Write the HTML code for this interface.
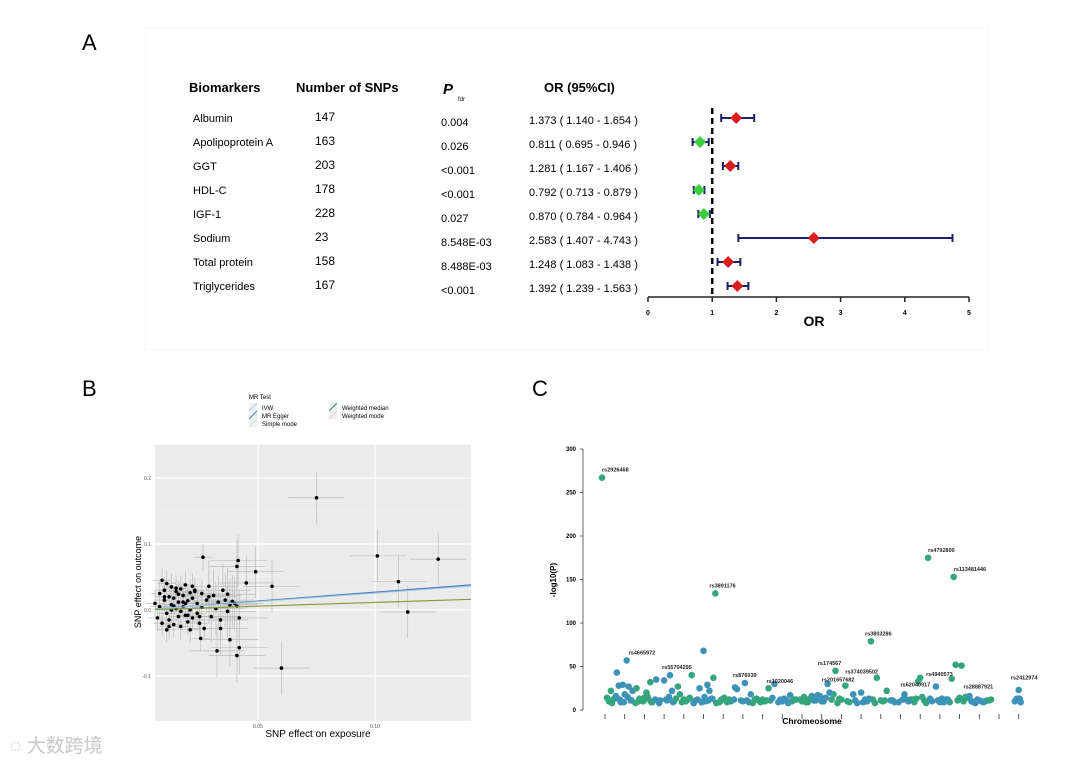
<!DOCTYPE html>
<html><head><meta charset="utf-8">
<style>
html,body{margin:0;padding:0;background:#fff;}
body{width:1075px;height:766px;overflow:hidden;font-family:"Liberation Sans","Noto Sans CJK SC",sans-serif;}
svg text{font-family:"Liberation Sans","Noto Sans CJK SC",sans-serif;}
</style></head>
<body>
<svg id="fig" width="1075" height="766" viewBox="0 0 1075 766">
  <rect x="145" y="28" width="843" height="322" fill="none" stroke="#f7f7f7"/>
  <text x="82" y="50" font-size="22">A</text>
  <text x="82" y="396" font-size="22">B</text>
  <text x="532" y="396" font-size="22">C</text>
  <g id="pa">
    <text x="189" y="92" font-size="13" font-weight="bold">Biomarkers</text>
    <text x="296" y="92" font-size="13" font-weight="bold">Number of SNPs</text>
    <text x="443" y="94" font-size="15" font-weight="bold" font-style="italic">P</text>
    <text x="458" y="101" font-size="6">fdr</text>
    <text x="544" y="92" font-size="13" font-weight="bold">OR (95%CI)</text>
  </g>
  <g id="pb"></g>
  <g id="pc"></g>
  <text x="10" y="752" font-size="19" fill="#c8c8c8">◌ 大数跨境</text>
</svg>
<script>
const NS="http://www.w3.org/2000/svg";
function mk(p,tag,attrs,txt){const e=document.createElementNS(NS,tag);for(const k in attrs)e.setAttribute(k,attrs[k]);if(txt!==undefined)e.textContent=txt;p.appendChild(e);return e;}

/* ---------- Panel A data ---------- */
const biomarkers=["Albumin","Apolipoprotein A","GGT","HDL-C","IGF-1","Sodium","Total protein","Triglycerides"];
const nSNPs=[147,163,203,178,228,23,158,167];
const pfdr=["0.004","0.026","<0.001","<0.001","0.027","8.548E-03","8.488E-03","<0.001"];
const orVals=[1.373,0.811,1.281,0.792,0.870,2.583,1.248,1.392];
const orLo=[1.140,0.695,1.167,0.713,0.784,1.407,1.083,1.239];
const orHi=[1.654,0.946,1.406,0.879,0.964,4.743,1.438,1.563];
const orTicks=[0,1,2,3,4,5];

const pa=document.getElementById('pa');
const fx=v=>648+v*64.2;
const rowY=i=>118+i*24;
const fmt=v=>v.toFixed(3);
biomarkers.forEach((b,i)=>{
  const y=rowY(i);
  let t=mk(pa,'text',{x:193,y:y+4,'font-size':11});t.textContent=b;
  
  
  t=mk(pa,'text',{x:315,y:y+3,'font-size':12});t.textContent=nSNPs[i];
  
  
  t=mk(pa,'text',{x:441,y:y+8,'font-size':11});t.textContent=pfdr[i];
  
  
  t=mk(pa,'text',{x:529,y:y+6,'font-size':11});t.textContent=fmt(orVals[i])+" ( "+fmt(orLo[i])+" - "+fmt(orHi[i])+" )";
  
  
  const g=mk(pa,'g',{});
  
  
  mk(g,'line',{x1:fx(orLo[i]),x2:fx(orHi[i]),y1:y,y2:y,stroke:'#1a1f6b','stroke-width':2});
  mk(g,'line',{x1:fx(orLo[i]),x2:fx(orLo[i]),y1:y-4,y2:y+4,stroke:'#1a1f6b','stroke-width':2});
  mk(g,'line',{x1:fx(orHi[i]),x2:fx(orHi[i]),y1:y-4,y2:y+4,stroke:'#1a1f6b','stroke-width':2});
  const cx=fx(orVals[i]);
  const col=orVals[i]>1?'#d81e1e':'#3ccf3c';
  const d=mk(g,'polygon',{points:`${cx},${y-6} ${cx+6},${y} ${cx},${y+6} ${cx-6},${y}`,fill:col});
  
  
});
let l=mk(pa,'line',{x1:fx(1),x2:fx(1),y1:108,y2:298,stroke:'#000','stroke-width':2.5,'stroke-dasharray':'6,4'});


l=mk(pa,'line',{x1:fx(0),x2:fx(5),y1:297,y2:297,stroke:'#222','stroke-width':1.5});


orTicks.forEach(v=>{
  mk(pa,'line',{x1:fx(v),x2:fx(v),y1:297,y2:302,stroke:'#222','stroke-width':1.5});
  const t=mk(pa,'text',{x:fx(v),y:315,'font-size':7,'font-weight':'bold','text-anchor':'middle'});t.textContent=v;
  
  
});
let tt=mk(pa,'text',{x:814,y:326,'font-size':14,'font-weight':'bold','text-anchor':'middle'},'OR');



/* ---------- Panel B data ---------- */
const bX=[0.006,0.007,0.008,0.008,0.009,0.010,0.010,0.011,0.011,0.012,0.012,0.013,0.013,0.014,0.014,0.015,0.015,0.016,0.016,0.017,0.017,0.018,0.018,0.019,0.019,0.020,0.020,0.021,0.021,0.022,0.022,0.023,0.024,0.024,0.025,0.026,0.026,0.027,0.028,0.029,0.030,0.031,0.032,0.033,0.034,0.035,0.036,0.037,0.038,0.039,0.040,0.041,0.042,0.009,0.011,0.013,0.015,0.017,0.019,0.021,0.023,0.025,0.010,0.012,0.014,0.016,0.018,0.020,0.022,
 0.0265,0.0415,0.041,0.045,0.049,0.056,0.075,0.101,0.110,0.114,0.127,0.060,0.042,0.041,0.038,0.0325,0.0255,0.029,0.034,0.037];
const bY=[0.010,-0.012,0.025,0.005,-0.020,0.030,0.015,-0.005,0.040,0.020,-0.015,0.008,0.035,-0.022,0.018,0.002,0.028,-0.010,0.012,0.032,-0.025,0.005,0.022,-0.008,0.038,0.014,-0.018,0.026,0.000,-0.012,0.018,0.030,-0.005,0.010,-0.020,0.025,0.004,-0.028,0.015,0.020,-0.010,0.022,0.002,0.012,-0.015,0.030,0.015,-0.002,0.008,0.013,0.010,0.006,-0.012,0.045,-0.030,0.000,0.033,-0.002,0.010,-0.030,0.028,-0.010,0.020,-0.025,0.006,0.024,0.012,-0.008,0.036,
 0.080,0.075,0.066,0.041,0.058,0.036,0.170,0.082,0.043,-0.003,0.077,-0.088,-0.057,-0.069,-0.045,-0.062,-0.043,0.036,-0.028,0.024];
const ivwSlope=0.27;
const medianSlope=0.115;
const bXTicks=[0.05,0.10];
const bXTickLabels=["0.05","0.10"];
const bYTicks=[-0.1,0,0.1,0.2];
const bYTickLabels=["-0.1","0.0","0.1","0.2"];

const pb=document.getElementById('pb');
const bx=v=>141+v*2340;
const by=v=>610-v*660;
let bg=mk(pb,'rect',{x:155,y:445,width:316,height:276,fill:'#ebebeb'});


[-0.15,-0.05,0.05,0.15].forEach(v=>mk(pb,'line',{x1:155,x2:471,y1:by(v),y2:by(v),stroke:'#f3f3f3','stroke-width':0.6}));
bYTicks.forEach((v,i)=>{
  mk(pb,'line',{x1:155,x2:471,y1:by(v),y2:by(v),stroke:'#fff','stroke-width':1.2});
  const t=mk(pb,'text',{x:151,y:by(v)+2,'font-size':5,'text-anchor':'end',fill:'#555'},bYTickLabels[i]);
  
  
});
bXTicks.forEach((v,i)=>{
  mk(pb,'line',{x1:bx(v),x2:bx(v),y1:445,y2:721,stroke:'#fff','stroke-width':1.2});
  const t=mk(pb,'text',{x:bx(v),y:728,'font-size':5,'text-anchor':'middle',fill:'#555'},bXTickLabels[i]);
  
  
});
bX.forEach((x,i)=>{
  const y=bY[i];
  const big=x>0.028;
  const sx=big?0.012:0.004, sy=big?0.04:0.02;
  mk(pb,'line',{x1:bx(x-sx),x2:bx(x+sx),y1:by(y),y2:by(y),stroke:'#b5b5b5','stroke-width':0.6});
  mk(pb,'line',{x1:bx(x),x2:bx(x),y1:by(y-sy),y2:by(y+sy),stroke:'#b5b5b5','stroke-width':0.6});
});
bX.forEach((x,i)=>{
  const c=mk(pb,'circle',{cx:bx(x),cy:by(bY[i]),r:1.8,fill:'#000'});
  
  
});
let ln=mk(pb,'line',{x1:155,y1:by(ivwSlope*((155-141)/2340)),x2:471,y2:by(ivwSlope*((471-141)/2340)),stroke:'#4a7fc0','stroke-width':1.2});


ln=mk(pb,'line',{x1:155,y1:by(ivwSlope*0.95*((155-141)/2340)),x2:471,y2:by(ivwSlope*0.95*((471-141)/2340)),stroke:'#9ccbe0','stroke-width':1});


ln=mk(pb,'line',{x1:155,y1:by(medianSlope*((155-141)/2340)),x2:471,y2:by(medianSlope*((471-141)/2340)),stroke:'#8a9a3a','stroke-width':1.2});


let t=mk(pb,'text',{x:0,y:0,'font-size':9,'text-anchor':'middle',transform:'translate(141,582) rotate(-90)'},'SNP effect on outcome');


t=mk(pb,'text',{x:318,y:737,'font-size':10,'text-anchor':'middle'},'SNP effect on exposure');


/* legend */
const lg=mk(pb,'g',{});


mk(lg,'text',{x:249,y:399,'font-size':6},'MR Test');
const legNames=["IVW","MR Egger","Simple mode","Weighted median","Weighted mode"];
const legCols=["#b8d3ec","#4a7fc0","#cfe6d0","#2e8b57","#f3c6c6"];
legNames.forEach((n,i)=>{
  const col=i<3?0:1, row=i<3?i:i-3;
  const x=col?329:249, y=408+row*8;
  mk(lg,'rect',{x:x,y:y-5,width:8,height:8,fill:'#eef2f6'});
  mk(lg,'line',{x1:x,y1:y+3,x2:x+8,y2:y-5,stroke:legCols[i],'stroke-width':1});
  const e=mk(lg,'text',{x:x+13,y:y+2,'font-size':6},n);
  
  
});

/* ---------- Panel C data ---------- */
const cPos=[-0.15,0.6,1.1,1.2,0.9,0.3,0.5,0.7,1.0,1.4,1.6,2.0,2.3,2.6,2.1,1.8,3.0,3.3,3.7,3.4,3.8,4.0,4.4,4.8,5.2,5.3,5.5,5.0,5.6,5.9,6.3,6.7,6.6,7.1,7.4,7.2,7.8,8.3,8.6,8.0,8.9,9.4,9.7,9.2,10.0,10.5,10.8,11.3,11.7,11.6,11.4,12.2,12.6,12.8,13.2,13.0,13.5,13.8,14.0,14.3,14.6,15.2,15.5,15.7,15.9,15.6,16.0,16.4,16.8,17.1,17.5,17.7,17.8,17.6,18.1,18.3,18.4,18.5,19.1,19.4,20.9,21.0,
 0.2,0.4,0.8,1.3,1.7,2.2,2.4,2.8,3.1,3.5,3.9,4.2,4.6,5.1,5.4,5.8,6.1,6.4,6.9,7.3,7.6,8.1,8.4,8.8,9.1,9.5,9.9,10.3,10.7,11.1,11.5,11.9,12.3,12.7,13.1,13.6,14.1,14.5,14.9,15.3,15.8,16.2,16.6,17.0,17.4,17.9,18.2,18.7,19.0,19.3,19.6,20.8,21.1,
 0.1,0.35,0.55,0.75,0.95,1.15,1.35,1.55,1.75,1.95,2.15,2.35,2.55,2.75,3.15,3.25,3.45,3.6,4.1,4.3,4.5,4.7,4.9,5.05,5.25,5.45,5.65,5.85,6.05,6.2,6.55,7.0,7.5,7.7,7.9,8.2,8.5,9.0,9.3,9.6,10.1,10.2,10.4,10.6,10.9,11.0,11.2,11.8,12.0,12.4,13.3,13.4,13.7,14.2,14.7,15.1,15.4,16.1,16.3,16.5,16.9,17.2,17.3,18.0,18.6,18.8,18.9,19.2,19.5,21.05];
const cVal=[267,43,57,27,29,22,13,28,18,22,25,14,32,35,20,12,34,40,27,22,18,12,40,25,29,22,37,68,134,12,12,24,26,31,18,11,11,25,30,12,12,17,12,11,10,16,17,30,45,18,20,28,18,8,12,20,79,37,11,22,11,18,12,9,33,12,37,175,27,13,9,153,52,36,51,15,14,16,10,11,13,23,
 10,12,9,11,10,13,9,11,12,10,9,12,11,10,13,9,12,10,11,9,12,10,11,9,13,10,12,9,11,10,12,13,10,11,9,12,10,11,9,12,13,11,10,9,12,11,10,9,11,10,12,10,9,
 14,8,16,12,9,15,11,8,13,10,16,9,12,8,11,15,9,13,10,14,8,12,9,15,11,13,8,10,14,9,12,10,8,13,9,11,14,10,8,12,15,9,13,11,16,10,14,8,12,9,10,13,8,11,9,12,10,15,8,13,11,9,12,14,10,8,12,9,11,13];
const cLabels=["rs2926468","rs4665972","rs55704295","rs3891176","rs876039","rs1020046","rs174567","rs201657682","rs374039502","rs3803286","rs62040917","rs4940573","rs4792800","rs113481446","rs28887921","rs2412974"];
const cLabelPos=[-0.15,1.2,2.9,5.3,6.5,8.2,10.8,11.0,12.2,13.2,15.0,16.3,16.4,17.7,18.2,20.6];
const cLabelVal=[267,57,40,134,31,24,45,26,35,79,20,32,175,153,18,28];
const cYTicks=[0,50,100,150,200,250,300];
const nChrom=22;

const pc=document.getElementById('pc');
const cx_=v=>605+v*19.7;
const cy_=v=>710-v*0.87;
mk(pc,'line',{x1:583,x2:583,y1:cy_(0),y2:cy_(300),stroke:'#444','stroke-width':0.8});
cYTicks.forEach(v=>{
  mk(pc,'line',{x1:580,x2:583,y1:cy_(v),y2:cy_(v),stroke:'#444','stroke-width':0.8});
  const e=mk(pc,'text',{x:576,y:cy_(v)+2,'font-size':6,'font-weight':'bold','text-anchor':'end'},v);
  
  
});
for(let i=0;i<nChrom;i++){
  mk(pc,'line',{x1:cx_(i),x2:cx_(i),y1:714,y2:719,stroke:'#333','stroke-width':0.8});
}
cPos.forEach((p,i)=>{
  const col=Math.floor(p+0.5)%2===0?'#35a57d':'#3d92b7';
  const c=mk(pc,'circle',{cx:cx_(p),cy:cy_(cVal[i]),r:3.3,fill:col});
  
  
});
cLabels.forEach((n,i)=>{
  const e=mk(pc,'text',{x:cx_(cLabelPos[i]),y:cy_(cLabelVal[i])-6,'font-size':5.5,'font-weight':'bold','text-anchor':'start',fill:'#222'},n);
  
  
});
t=mk(pc,'text',{x:812,y:724,'font-size':8.5,'font-weight':'bold','text-anchor':'middle'},'Chromeosome');


t=mk(pc,'text',{x:0,y:0,'font-size':8,'font-weight':'bold','text-anchor':'middle',transform:'translate(556,580) rotate(-90)'},'-log10(P)');


</script>
</body></html>
